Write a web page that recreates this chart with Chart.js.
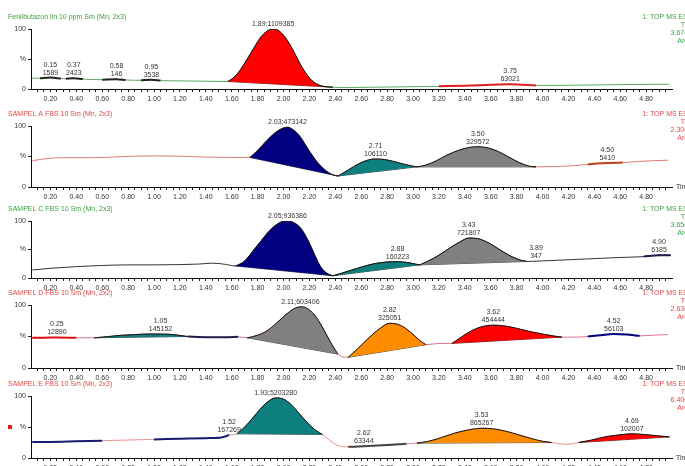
<!DOCTYPE html>
<html lang="en">
<head>
<meta charset="UTF-8">
<title>FBS chromatograms</title>
<script src="https://cdn.jsdelivr.net/npm/chart.js"></script>
<style>
  body { margin: 0; background: #fff; width: 685px; height: 466px; overflow: hidden; position: relative; }
  canvas { position: absolute; left: 0; }
</style>
</head>
<body>
<canvas id="c1" width="685" height="98" style="top:7px"></canvas>
<canvas id="c2" width="685" height="99" style="top:104px"></canvas>
<canvas id="c3" width="685" height="95" style="top:199px"></canvas>
<canvas id="c4" width="685" height="101" style="top:283px"></canvas>
<canvas id="c5" width="685" height="100" style="top:374px"></canvas>
<script>
// axis ticks
const xTickLabels = ['0.20','0.40','0.60','0.80','1.00','1.20','1.40','1.60','1.80','2.00','2.20','2.40',
                     '2.60','2.80','3.00','3.20','3.40','3.60','3.80','4.00','4.20','4.40','4.60','4.80'];
const yTickValues = [0, 50, 100];
const yTickLabels = ['0', '%', '100'];

// Fenilbutazon standard
const p1Title = 'Fenilbutazon lin 10 ppm Sm (Mn, 2x3)';
const p1Info = ['1: TOP MS ES+', 'TIC', '3.67e6', 'Area'];
const p1Time = [0.06, 0.12, 0.20, 0.28, 0.32, 0.38, 0.45, 0.60, 0.71, 0.78, 0.90, 0.98, 1.05, 1.20, 1.40, 1.57, 1.62, 1.67, 1.72, 1.77,
                1.82, 1.87, 1.92, 1.97, 2.02, 2.07, 2.12, 2.17, 2.22, 2.27, 2.32, 2.38, 2.50, 2.70, 2.90, 3.05, 3.20, 3.40, 3.60, 3.75,
                3.95, 4.10, 4.30, 4.50, 4.70, 4.98];
const p1Int = [18, 18, 19, 17.5, 17, 17.8, 16.5, 15.5, 16.2, 15, 14.5, 15.5, 14, 13.5, 13, 12.5, 20, 33, 50, 68,
               85, 96, 100, 96, 84, 66, 45, 27, 14, 7, 4, 3, 2.5, 3, 3.5, 4, 4.5, 5.5, 7, 8,
               6, 6, 6.5, 7, 7.5, 8];
const p1PeakFrom = [0.12, 0.32, 0.60, 0.90, 1.57, 3.20];
const p1PeakTo = [0.28, 0.45, 0.78, 1.05, 2.38, 3.95];
const p1LabelAt = [0.20, 0.38, 0.71, 0.98, 1.92, 3.75];
const p1RT = ['0.15', '0.37', '0.58', '0.95', '1.89', '3.75'];
const p1Area = ['1589', '2423', '146', '3538', '1109385', '63021'];

// Sampel A
const p2Title = 'SAMPEL A FBS 10 Sm (Mn, 2x3)';
const p2Info = ['1: TOP MS ES+', 'TIC', '2.30e6', 'Area'];
const p2Time = [0.06, 0.15, 0.28, 0.50, 0.85, 1.00, 1.20, 1.40, 1.60, 1.74, 1.80, 1.87, 1.93, 1.98, 2.03, 2.08, 2.13, 2.19, 2.26, 2.32,
                2.38, 2.42, 2.50, 2.58, 2.65, 2.71, 2.78, 2.85, 2.92, 2.98, 3.03, 3.10, 3.18, 3.26, 3.35, 3.44, 3.50, 3.58, 3.66, 3.74,
                3.82, 3.90, 3.95, 4.10, 4.25, 4.35, 4.42, 4.50, 4.62, 4.75, 4.97];
const p2Int = [43, 46, 48, 48, 50.5, 51, 50.5, 49, 48.5, 48.5, 60, 76, 88, 95, 98, 93, 82, 62, 41, 28,
               20, 18, 28, 38, 44, 46, 45, 42, 38, 35, 33, 36, 43, 52, 60, 65, 66, 64, 58, 49,
               40, 34, 33, 33.5, 35, 37, 38.5, 39.5, 40, 42, 44];
const p2PeakFrom = [1.74, 2.42, 3.03, 4.35];
const p2PeakTo = [2.42, 3.03, 3.95, 4.62];
const p2LabelAt = [2.03, 2.71, 3.50, 4.50];
const p2RT = ['2.03', '2.71', '3.50', '4.50'];
const p2Area = ['473142', '106110', '329572', '5410'];

// Sampel C
const p3Title = 'SAMPEL C FBS 10 Sm (Mn, 2x3)';
const p3Info = ['1: TOP MS ES+', 'TIC', '3.65e6', 'Area'];
const p3Time = [0.06, 0.20, 0.40, 0.60, 0.80, 1.00, 1.20, 1.35, 1.45, 1.55, 1.63, 1.70, 1.77, 1.83, 1.88, 1.93, 1.98, 2.03, 2.08, 2.13,
                2.18, 2.23, 2.28, 2.33, 2.38, 2.50, 2.60, 2.70, 2.80, 2.88, 2.96, 3.05, 3.12, 3.20, 3.28, 3.36, 3.43, 3.50, 3.58, 3.66,
                3.74, 3.82, 3.88, 3.95, 4.05, 4.20, 4.40, 4.60, 4.78, 4.90, 4.99];
const p3Int = [14, 17, 20, 22, 23, 23, 23.5, 24.5, 26, 24, 21, 30, 49, 66, 80, 91, 98, 100, 97, 88,
               70, 46, 22, 9, 4, 12, 19, 25, 28, 28.5, 27, 23, 30, 40, 52, 63, 70, 69, 62, 51,
               40, 32, 29, 29.5, 30.5, 32, 34, 36, 37.5, 40, 40];
const p3PeakFrom = [1.63, 2.38, 3.05, 4.78];
const p3PeakTo = [2.38, 3.05, 3.88, 4.99];
const p3LabelAt = [2.03, 2.88, 3.43, 3.95, 4.90];
const p3RT = ['2.05', '2.88', '3.43', '3.89', '4.90'];
const p3Area = ['936386', '160223', '721807', '347', '6185'];

// Sampel D
const p4Title = 'SAMPEL D FBS 10 Sm (Mn, 2x2)';
const p4Info = ['1: TOP MS ES+', 'TIC', '2.63e6', 'Area'];
const p4Time = [0.06, 0.15, 0.25, 0.40, 0.54, 0.65, 0.75, 0.85, 0.95, 1.05, 1.15, 1.26, 1.40, 1.55, 1.65, 1.72, 1.80, 1.88, 1.95, 2.02,
                2.08, 2.13, 2.18, 2.24, 2.30, 2.36, 2.42, 2.50, 2.58, 2.66, 2.74, 2.82, 2.90, 2.98, 3.05, 3.10, 3.20, 3.30, 3.38, 3.46,
                3.54, 3.62, 3.70, 3.80, 3.90, 4.00, 4.08, 4.15, 4.25, 4.35, 4.45, 4.55, 4.65, 4.75, 4.85, 4.97];
const p4Int = [48, 48, 48.5, 48, 48, 50, 52, 53, 54, 54, 53, 50, 49, 49, 49.5, 48, 52, 60, 72, 85,
               94, 97, 95, 84, 65, 42, 22, 17, 32, 48, 62, 71, 68, 57, 44, 37, 39, 39, 50, 60,
               66, 68, 67, 63, 58, 54, 51, 49, 49, 50, 52, 54, 53, 51, 52, 53];
const p4PeakFrom = [0.06, 0.54, 1.26, 1.72, 2.50, 3.30, 4.35];
const p4PeakTo = [0.40, 1.26, 1.65, 2.42, 3.10, 4.15, 4.75];
const p4LabelAt = [0.25, 1.05, 2.13, 2.82, 3.62, 4.55];
const p4RT = ['0.25', '1.05', '2.11', '2.82', '3.62', '4.52'];
const p4Area = ['12890', '145152', '603406', '325051', '454444', '56103'];

// Sampel E
const p5Title = 'SAMPEL E FBS 10 Sm (Mn, 2x3)';
const p5Info = ['1: TOP MS ES+', 'TIC', '6.40e6', 'Area'];
const p5Time = [0.06, 0.20, 0.40, 0.60, 0.80, 1.00, 1.20, 1.40, 1.52, 1.58, 1.64, 1.70, 1.76, 1.82, 1.88, 1.94, 2.00, 2.06, 2.12, 2.18,
                2.24, 2.30, 2.36, 2.42, 2.50, 2.62, 2.80, 2.95, 3.03, 3.12, 3.22, 3.32, 3.42, 3.53, 3.62, 3.72, 3.82, 3.92, 4.00, 4.07,
                4.18, 4.28, 4.38, 4.48, 4.58, 4.69, 4.78, 4.88, 4.98];
const p5Int = [26, 26, 27, 28, 29, 30, 31, 32, 33, 37, 39, 50, 64, 79, 91, 97, 95, 86, 72, 58,
               46, 38, 28, 20, 18, 19, 21, 23, 24, 27, 33, 40, 45, 48, 47, 43, 37, 31, 27, 25,
               22, 25, 29, 34, 37, 39, 38, 36, 34];
const p5PeakFrom = [0.06, 1.00, 1.64, 2.50, 3.03, 4.28];
const p5PeakTo = [0.60, 1.58, 2.30, 2.95, 4.07, 4.98];
const p5LabelAt = [1.58, 1.94, 2.62, 3.53, 4.69];
const p5RT = ['1.52', '1.93', '2.62', '3.53', '4.69'];
const p5Area = ['167269', '5203280', '63344', '865267', '102007'];

const FONT = '"Liberation Sans", Arial, sans-serif';
Chart.defaults.font.family = FONT;
Chart.defaults.font.size = 7;
Chart.defaults.color = '#333';

const GREEN = '#3f9f3f', RED = '#e04848';

// minor ticks every 0.05 min
const xTickValues = [];
for (let i = 2; i < 100; i++) xTickValues.push(Math.round(i * 5) / 100);

function annotPlugin(p) {
  return {
    id: 'annot',
    afterDraw(chart) {
      const { ctx, chartArea: a, scales: { x, y } } = chart;
      ctx.save();
      ctx.font = '7px ' + FONT;
      ctx.textBaseline = 'middle';
      ctx.fillStyle = p.titleColor;
      ctx.textAlign = 'left';
      ctx.fillText(p.title, 8, a.top - 12);
      ctx.textAlign = 'right';
      p.info.forEach((s, i) => ctx.fillText(s, a.right + 20, a.top - 12 + i * 8));

      ctx.fillStyle = '#333';
      ctx.textAlign = 'center';
      p.labelAt.forEach((t, i) => {
        const v = p.int[p.time.indexOf(t)];
        const px = x.getPixelForValue(t), py = y.getPixelForValue(v);
        if (v > 90) {
          ctx.fillText(p.rt[i] + ';' + p.area[i], px, py - 5);
        } else {
          ctx.fillText(p.area[i], px, py - 5);
          ctx.fillText(p.rt[i], px, py - 13);
        }
      });

      if (p.showTime) {
        ctx.fillStyle = '#333';
        ctx.textAlign = 'left';
        ctx.fillText('Time', a.right + 4, a.bottom);
      }
      if (p.marker) {
        ctx.fillStyle = '#e02020';
        ctx.fillRect(8, y.getPixelForValue(50) - 2, 4, 4);
      }
      ctx.restore();
    }
  };
}

function makePanel(id, p) {
  const datasets = [];
  p.from.forEach((f, k) => {
    const to = p.to[k];
    const pts = [];
    p.time.forEach((t, i) => { if (t >= f && t <= to) pts.push({ x: t, y: p.int[i] }); });
    const b0 = pts[0], b1 = pts[pts.length - 1];
    const lift = Math.max(...pts.map(d => d.y - (b0.y + (b1.y - b0.y) * (d.x - b0.x) / (b1.x - b0.x))));
    const small = lift < 4;
    datasets.push({
      data: pts,
      fill: small ? false : datasets.length + 1,
      backgroundColor: p.fills[k],
      borderColor: small ? p.fills[k] : '#111',
      borderWidth: small ? 2 : 1,
      cubicInterpolationMode: 'monotone'
    });
    datasets.push({
      data: [{ x: b0.x, y: b0.y }, { x: b1.x, y: b1.y }],
      borderColor: small ? 'rgba(0,0,0,0)' : '#222',
      borderWidth: 0.8,
      fill: false
    });
  });
  datasets.push({
    data: p.time.map((t, i) => ({ x: t, y: p.int[i] })),
    borderColor: p.line,
    borderWidth: 1,
    fill: false,
    cubicInterpolationMode: 'monotone'
  });

  return new Chart(document.getElementById(id), {
    type: 'line',
    data: { datasets },
    options: {
      responsive: false,
      animation: false,
      devicePixelRatio: 1,
      layout: { padding: { top: 22, right: 13, left: 0, bottom: 0 } },
      elements: { point: { radius: 0 } },
      plugins: { legend: { display: false }, tooltip: { enabled: false } },
      scales: {
        x: {
          type: 'linear', min: 0.05, max: 5.0,
          afterFit: s => { s.height = 16; },
          afterBuildTicks: s => { s.ticks = xTickValues.map(v => ({ value: v })); },
          ticks: {
            autoSkip: false, maxRotation: 0, padding: 3, color: '#333',
            callback: v => { const s = Number(v).toFixed(2); return xTickLabels.includes(s) ? s : ''; }
          },
          grid: { drawOnChartArea: false, tickLength: 3, color: '#222' },
          border: { color: '#111', width: 1 }
        },
        y: {
          min: 0, max: 100,
          afterFit: s => { s.width = 31; },
          afterBuildTicks: s => { s.ticks = yTickValues.map(v => ({ value: v })); },
          ticks: { padding: 2, color: '#333', callback: v => yTickLabels[yTickValues.indexOf(v)] },
          grid: { drawOnChartArea: false, tickLength: 3, color: '#222' },
          border: { color: '#111', width: 1 }
        }
      }
    },
    plugins: [annotPlugin(p)]
  });
}

makePanel('c1', { title: p1Title, titleColor: GREEN, info: p1Info, time: p1Time, int: p1Int,
  from: p1PeakFrom, to: p1PeakTo, labelAt: p1LabelAt, rt: p1RT, area: p1Area,
  fills: ['#222', '#222', '#222', '#222', '#ff0000', '#e02020'], line: '#5aa85a' });
makePanel('c2', { title: p2Title, titleColor: RED, info: p2Info, time: p2Time, int: p2Int,
  from: p2PeakFrom, to: p2PeakTo, labelAt: p2LabelAt, rt: p2RT, area: p2Area, showTime: true,
  fills: ['#000080', '#0e7f7f', '#808080', '#c04020'], line: '#e07878' });
makePanel('c3', { title: p3Title, titleColor: GREEN, info: p3Info, time: p3Time, int: p3Int,
  from: p3PeakFrom, to: p3PeakTo, labelAt: p3LabelAt, rt: p3RT, area: p3Area,
  fills: ['#000080', '#0e7f7f', '#808080', '#1a1a50'], line: '#333' });
makePanel('c4', { title: p4Title, titleColor: RED, info: p4Info, time: p4Time, int: p4Int,
  from: p4PeakFrom, to: p4PeakTo, labelAt: p4LabelAt, rt: p4RT, area: p4Area, showTime: true,
  fills: ['#e01010', '#0e7f7f', '#202050', '#808080', '#ff8c00', '#ff0000', '#000080'], line: '#e07088' });
makePanel('c5', { title: p5Title, titleColor: RED, info: p5Info, time: p5Time, int: p5Int,
  from: p5PeakFrom, to: p5PeakTo, labelAt: p5LabelAt, rt: p5RT, area: p5Area, showTime: true, marker: true,
  fills: ['#1a1a70', '#1a1a70', '#0e7f7f', '#444', '#ff8c00', '#ff0000'], line: '#e89090' });
</script>
</body>
</html>
